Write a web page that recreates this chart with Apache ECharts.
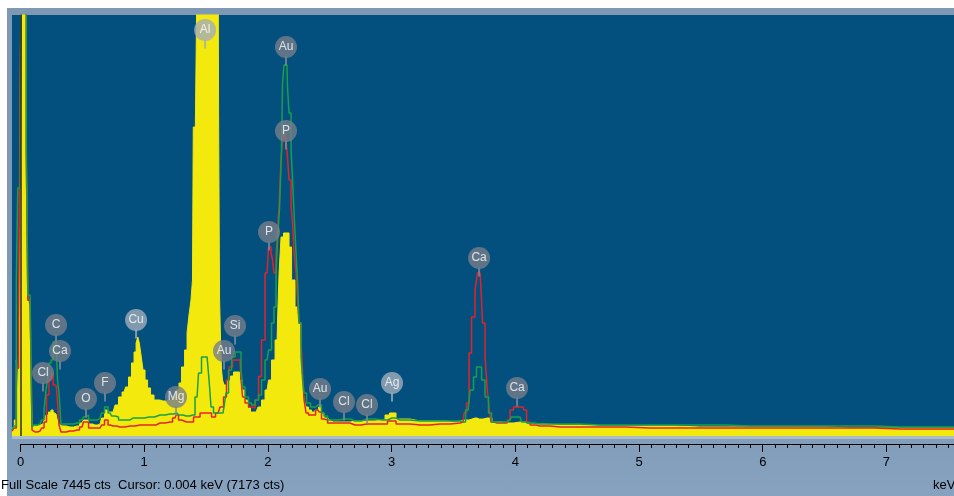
<!DOCTYPE html>
<html><head><meta charset="utf-8">
<script src="https://cdn.jsdelivr.net/npm/echarts@6/dist/echarts.min.js"></script>
<style>
html,body{margin:0;padding:0;background:#fff;}
#wrap{position:relative;width:954px;height:496px;overflow:hidden;background:#fff;}
#frame{position:absolute;left:7px;top:8px;right:0;bottom:0;background:linear-gradient(180deg,#7f98b3 0%,#7f9ab6 80%,#86a2bf 100%);}
#chart{position:absolute;left:0;top:0;width:954px;height:496px;}
</style></head><body>
<div id="wrap"><div id="frame"></div><div id="chart"></div></div>
<script>
// ---- Data (energy in keV, intensity in counts) ----
const FULL_SCALE = 7445;
const CURSOR_KEV = 0.004;
const CURSOR_CTS = 7173;
const X_MIN = -0.069, X_MAX = 7.546;

const majorTickLabels = [0, 1, 2, 3, 4, 5, 6, 7];

const yellowE = [-0.069,-0.061,-0.040,-0.028,-0.016,-0.004,0.004,0.016,0.028,0.040,
0.053,0.065,0.077,0.089,0.101,0.117,0.158,0.182,0.198,0.214,
0.238,0.255,0.271,0.287,0.303,0.319,0.335,0.400,0.457,0.497,
0.521,0.538,0.562,0.602,0.643,0.667,0.691,0.724,0.748,0.780,
0.804,0.837,0.861,0.885,0.909,0.926,0.942,0.954,0.966,0.982,
0.998,1.015,1.039,1.063,1.095,1.152,1.209,1.249,1.273,1.289,
1.314,1.338,1.354,1.370,1.386,1.394,1.399,1.427,1.435,1.500,
1.597,1.605,1.613,1.621,1.629,1.637,1.653,1.661,1.686,1.710,
1.734,1.758,1.783,1.799,1.823,1.847,1.871,1.904,1.936,1.960,
1.993,2.017,2.041,2.074,2.082,2.098,2.114,2.138,2.154,2.162,
2.179,2.203,2.235,2.259,2.276,2.284,2.300,2.316,2.340,2.365,
2.397,2.421,2.445,2.462,2.502,2.526,2.623,2.704,2.801,2.930,
2.963,3.003,3.068,3.230,3.391,3.496,3.577,3.674,3.707,3.771,
3.852,3.933,4.038,4.135,4.361,4.685,5.089,5.493,5.897,6.301,
6.706,7.110,7.546];
const yellowC = [140,141,283,1344,637,2405,7173,9000,9000,9000,
5058,2405,2317,990,195,177,195,212,283,371,
424,460,424,389,300,212,177,159,177,230,
283,283,212,195,212,318,460,424,424,548,
690,778,867,1043,1291,1485,1645,1751,1645,1432,
1167,990,849,725,637,619,637,707,813,937,
1220,1521,1821,2140,2405,2759,5464,5464,9000,9000,
9000,5730,2405,1698,1167,990,902,902,990,1061,
1132,1132,990,813,637,495,424,424,513,637,
813,990,1344,1698,2051,2882,3519,3590,3590,3590,
3342,2759,2281,1998,1397,867,637,513,460,424,
460,513,407,318,283,248,248,265,265,283,
371,407,300,265,265,248,283,318,300,318,
248,230,248,212,195,177,177,159,159,159,
141,141,141];

const greenE = [-0.069,-0.040,-0.028,-0.016,-0.004,0.004,0.016,0.040,0.053,0.065,
0.077,0.089,0.097,0.117,0.158,0.182,0.198,0.214,0.222,0.238,
0.255,0.271,0.287,0.295,0.303,0.319,0.335,0.400,0.457,0.497,
0.521,0.538,0.562,0.602,0.643,0.667,0.691,0.724,0.748,0.780,
0.804,0.861,0.909,0.966,1.039,1.128,1.209,1.265,1.289,1.338,
1.394,1.427,1.451,1.475,1.500,1.516,1.532,1.548,1.572,1.597,
1.637,1.653,1.669,1.694,1.718,1.750,1.774,1.791,1.799,1.831,
1.855,1.880,1.912,1.936,1.960,1.993,2.017,2.041,2.057,2.074,
2.082,2.106,2.114,2.122,2.138,2.154,2.162,2.179,2.195,2.203,
2.219,2.235,2.243,2.259,2.276,2.284,2.300,2.324,2.365,2.405,
2.421,2.445,2.462,2.502,2.623,2.704,2.801,2.930,3.003,3.068,
3.230,3.391,3.553,3.577,3.618,3.650,3.674,3.698,3.715,3.739,
3.771,3.795,3.820,3.876,3.933,3.957,3.981,4.014,4.038,4.062,
4.103,4.200,4.361,4.685,5.089,5.493,5.897,6.301,6.706,7.110,
7.546];
const greenC = [106,177,2759,4386,4386,5853,9000,9000,5058,2493,
2493,2493,159,195,212,283,460,813,990,1291,
1344,1662,1680,1662,990,760,212,212,230,283,
336,371,283,283,318,407,513,407,354,336,
283,283,318,318,336,371,389,407,371,354,
371,690,1114,1397,1397,1397,990,513,407,407,
407,513,760,1167,1397,1485,1485,1167,867,690,
584,548,637,725,990,1344,1521,1998,2281,2882,
3466,4050,5058,6242,6561,6561,6172,5712,5058,4527,
3944,3236,2759,1998,1397,990,760,584,513,548,
548,407,354,283,300,265,300,283,318,283,
265,265,265,248,460,813,1043,1220,1220,990,
690,407,248,248,248,283,336,336,336,248,
230,212,212,195,195,195,177,177,177,159,
159];

const redE = [-0.069,-0.040,-0.028,-0.004,0.004,0.016,0.040,0.053,0.065,0.089,
0.097,0.117,0.158,0.182,0.198,0.222,0.238,0.255,0.271,0.287,
0.303,0.319,0.335,0.400,0.457,0.497,0.521,0.538,0.562,0.602,
0.643,0.667,0.691,0.724,0.748,0.804,0.885,0.966,1.063,1.128,
1.209,1.249,1.265,1.289,1.314,1.370,1.427,1.475,1.516,1.532,
1.556,1.597,1.629,1.653,1.677,1.694,1.734,1.774,1.791,1.799,
1.831,1.855,1.880,1.912,1.936,1.960,1.993,2.017,2.033,2.041,
2.057,2.074,2.082,2.098,2.114,2.122,2.138,2.154,2.162,2.179,
2.195,2.203,2.219,2.235,2.243,2.259,2.276,2.284,2.300,2.316,
2.340,2.365,2.405,2.421,2.445,2.462,2.502,2.623,2.704,2.801,
2.930,3.003,3.068,3.230,3.391,3.553,3.577,3.593,3.618,3.634,
3.658,3.690,3.698,3.715,3.731,3.739,3.771,3.779,3.795,3.811,
3.852,3.933,3.941,3.973,3.997,4.038,4.062,4.078,4.103,4.135,
4.200,4.361,4.685,5.089,5.493,5.897,6.301,6.706,7.110,7.546];
const redC = [88,141,1200,2100,6826,9000,9000,5000,2400,2400,
106,71,88,141,248,725,990,1114,902,902,
725,195,71,88,106,159,248,248,141,141,
141,195,283,195,177,159,177,195,195,230,
248,318,371,283,248,248,336,407,407,407,
336,407,513,690,990,1220,1344,1344,990,690,
584,513,495,637,1050,1698,2882,3342,3236,3112,
2882,3165,3696,4050,4934,5234,5358,5234,4934,4527,
4050,3767,3236,2882,2405,1998,1698,1114,637,407,
371,371,460,424,300,283,230,230,195,212,
212,265,212,195,212,230,248,407,584,1468,
2104,2582,2882,2882,2582,1998,1397,760,513,248,
230,230,283,460,513,513,513,460,248,195,
177,159,159,141,141,141,141,141,124,124];

// peak-identification labels
const labelNames = ['Al','Au','P','P','Ca','Ca','Si','Au','Cu','C','Ca','Cl','O','F','Mg','Au','Cl','Cl','Ag'];
const labelE = [1.492,2.146,2.146,2.009,3.707,4.014,1.734,1.645,0.934,0.287,0.319,0.182,0.529,0.683,1.257,2.421,2.615,2.801,3.003];
const labelC = [7180,6879,5394,3608,3148,849,1945,1503,2051,1963,1503,1114,654,937,690,831,601,548,937];
const labelSpectrum = ['Y','G','R','R','R','R','G','G','Y','G','G','R','G','G','G','G','G','G','Y'];

// ---- build ----
const zip = (e, c) => e.map((v, i) => [v, c[i]]);
const minorTicks = [];
for (let i = 0; i <= 75; i++) minorTicks.push(+(i * 0.1).toFixed(1));

const bubbleData = labelNames.map((n, i) => ({
  value: [labelE[i], labelC[i]], name: n,
  itemStyle: { color: labelSpectrum[i] === 'Y' ? '#a2acb9' : '#777e8a' }
}));
const stemData = labelNames.map((n, i) => ({
  value: [labelE[i], labelC[i]],
  itemStyle: { color: labelSpectrum[i] === 'Y' ? '#a2acb9' : '#858b96' }
}));

const FONT = '"Liberation Sans", Arial, sans-serif';
const chart = echarts.init(document.getElementById('chart'), null, { renderer: 'canvas', width: 954, height: 496 });
chart.setOption({
  backgroundColor: 'transparent',
  animation: false,
  grid: [
    { left: 12, right: 0, top: 15, bottom: 60, show: true, backgroundColor: '#03507f', borderWidth: 0 },
    { left: 20.5, right: 0, top: 443, height: 1, show: false }
  ],
  xAxis: [
    { gridIndex: 0, type: 'value', min: X_MIN, max: X_MAX, show: false },
    { gridIndex: 1, type: 'value', min: 0, max: X_MAX, position: 'bottom',
      axisLine: { show: true, lineStyle: { color: '#000', width: 1 } },
      axisTick: { show: true, customValues: minorTicks, length: 4, lineStyle: { color: '#000', width: 1 } },
      axisLabel: { show: false }, splitLine: { show: false } },
    { gridIndex: 1, type: 'value', min: 0, max: X_MAX, position: 'bottom',
      axisLine: { show: false },
      axisTick: { show: true, customValues: majorTickLabels, length: 8, lineStyle: { color: '#000', width: 1 } },
      axisLabel: { show: true, customValues: majorTickLabels, color: '#000', fontSize: 13, margin: 12, fontFamily: FONT,
        formatter: v => String(v) },
      splitLine: { show: false } }
  ],
  yAxis: [
    { gridIndex: 0, type: 'value', min: 0, max: FULL_SCALE, show: false },
    { gridIndex: 1, type: 'value', show: false }
  ],
  series: [
    { type: 'line', name: 'yellow', xAxisIndex: 0, yAxisIndex: 0, data: zip(yellowE, yellowC),
      step: 'middle', symbol: 'none', z: 2,
      lineStyle: { color: '#f4e90c', width: 1 }, areaStyle: { color: '#f4e90c', opacity: 1 },
      markLine: { silent: true, symbol: 'none', label: { show: false },
        lineStyle: { color: '#2e2e24', width: 1.5, type: 'solid' },
        data: [{ xAxis: CURSOR_KEV }] } },
    { type: 'line', name: 'red', xAxisIndex: 0, yAxisIndex: 0, data: zip(redE, redC),
      step: 'middle', symbol: 'none', z: 3, lineStyle: { color: '#e3232b', width: 1.5 } },
    { type: 'line', name: 'green', xAxisIndex: 0, yAxisIndex: 0, data: zip(greenE, greenC),
      step: 'middle', symbol: 'none', z: 4, lineStyle: { color: '#17a04b', width: 1.5 } },
    { type: 'scatter', xAxisIndex: 0, yAxisIndex: 0, data: stemData, symbol: 'rect',
      symbolSize: [2, 9], symbolOffset: [0, 14], z: 5, silent: true },
    { type: 'scatter', xAxisIndex: 0, yAxisIndex: 0, data: bubbleData, symbol: 'circle',
      symbolSize: 22, z: 6, silent: true,
      label: { show: true, position: 'inside', formatter: p => p.name, color: '#fff', fontSize: 12, fontFamily: FONT } }
  ],
  graphic: [
    { type: 'rect', left: 12, top: 436, shape: { width: 942, height: 3 }, style: { fill: '#a9bccd' }, z: 1 },
    { type: 'text', left: 1, top: 479, style: { text: 'Full Scale ' + FULL_SCALE + ' cts  Cursor: ' + CURSOR_KEV.toFixed(3) + ' keV (' + CURSOR_CTS + ' cts)', font: '13px ' + FONT, fill: '#000' } },
    { type: 'text', left: 933, top: 479, style: { text: 'keV', font: '13px ' + FONT, fill: '#000' } }
  ]
});
</script></body></html>
